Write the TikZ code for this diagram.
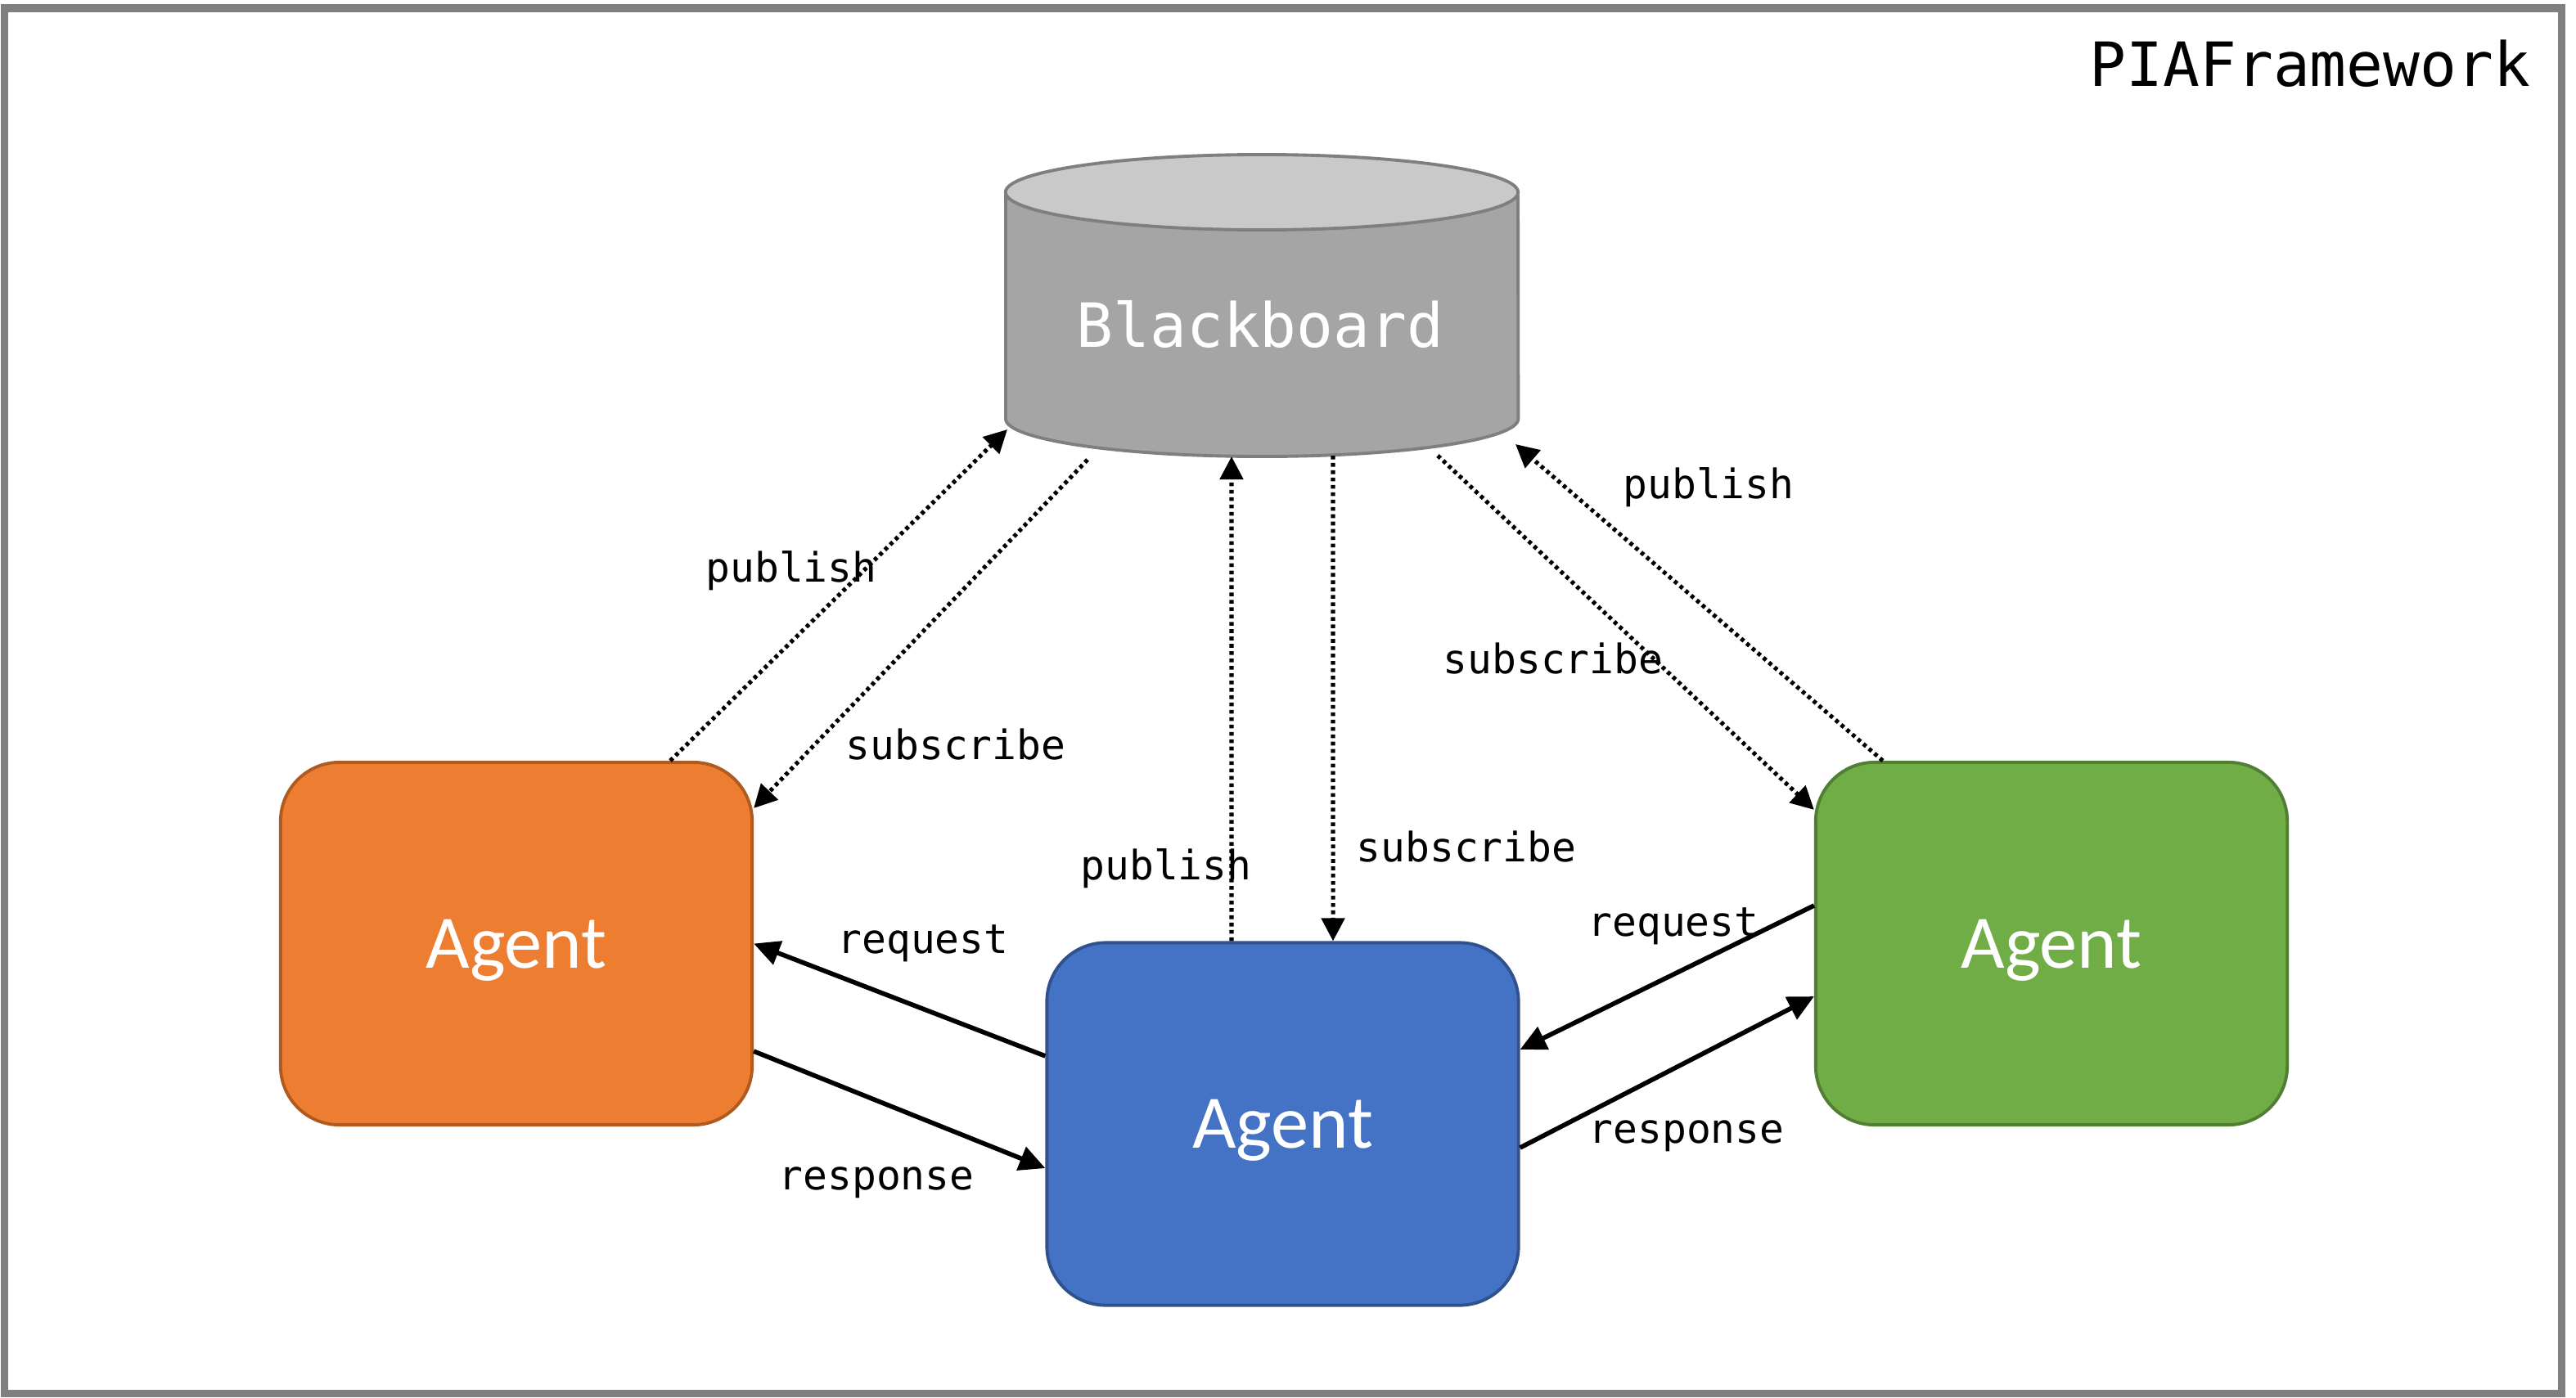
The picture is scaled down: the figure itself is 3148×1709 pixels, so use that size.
\documentclass[tikz,border=0pt]{standalone}
\usepackage{fontspec}
\setmonofont{DejaVu Sans Mono}
\newfontfamily\agentfont{Carlito}
\usetikzlibrary{arrows.meta,calc}
\definecolor{framegray}{HTML}{7F7F7F}
\definecolor{orfill}{HTML}{ED7D31}
\definecolor{ordraw}{HTML}{AE5A21}
\definecolor{blfill}{HTML}{4472C4}
\definecolor{bldraw}{HTML}{2F528F}
\definecolor{grfill}{HTML}{70AD47}
\definecolor{grdraw}{HTML}{507E32}
\definecolor{bbbody}{HTML}{A5A5A5}
\definecolor{bbtop}{HTML}{C9C9C9}
\definecolor{bbline}{HTML}{7F7F7F}
\begin{document}
\begin{tikzpicture}[x=0.01cm,y=-0.01cm,
  agentbox/.style={rectangle, rounded corners=0.72cm, minimum width=5.76cm, minimum height=4.43cm,
    line width=1.1pt, text=white, inner sep=0pt, text depth=0pt,
    font=\agentfont\fontsize{26.3pt}{30pt}\selectfont},
  lbl/.style={anchor=mid, inner sep=0pt, font=\ttfamily\fontsize{14.1pt}{17pt}\selectfont},
  dotarrow/.style={line width=1.45pt, dash pattern=on 1.3pt off 1.25pt,
    -{Triangle[length=8pt,width=8pt]}},
  solidarrow/.style={line width=1.6pt, -{Triangle[length=9pt,width=8.5pt]}}]
\useasboundingbox (0,0) rectangle (3148,1709);
\fill[white] (0,0) rectangle (3148,1709);
\draw[framegray, line width=2.56pt] (5.5,10) rectangle (3130,1703);
\node[anchor=base east, inner sep=0pt, font=\ttfamily\fontsize{21.2pt}{25pt}\selectfont] (title) at (3093,105) {PIAFramework};

% Blackboard cylinder
\filldraw[fill=bbbody, draw=bbline, line width=1.1pt]
  (1229,235) -- (1229,512) arc[start angle=180, end angle=360, x radius=3.13cm, y radius=0.46cm]
  -- (1855,235) -- cycle;
\filldraw[fill=bbtop, draw=bbline, line width=1.1pt] (1542,235) ellipse [x radius=3.13cm, y radius=0.46cm];
\node[anchor=base, inner sep=0pt, text=white, font=\ttfamily\fontsize{21.2pt}{25pt}\selectfont] (BB) at (1540,424) {Blackboard};
\coordinate (bbA) at (1231,525);
\coordinate (bbB) at (1329,562);
\coordinate (bbC) at (1505,558);
\coordinate (bbD) at (1629,557);
\coordinate (bbE) at (1757,557);
\coordinate (bbF) at (1852,543);

% Agents
\node[agentbox, fill=orfill, draw=ordraw] (O) at (631,1153.5) {Agent};
\node[agentbox, fill=blfill, draw=bldraw] (B) at (1567.5,1374) {Agent};
\node[agentbox, fill=grfill, draw=grdraw] (G) at (2507,1153.5) {Agent};

% publish / subscribe
\draw[dotarrow] ([xshift=1.88cm]O.north) -- (bbA);
\draw[dotarrow] (bbB) -- ([yshift=1.655cm]O.east);
\draw[dotarrow] ([xshift=-0.625cm]B.north) -- (bbC);
\draw[dotarrow] (bbD) -- ([xshift=0.615cm]B.north);
\draw[dotarrow] (bbE) -- ([yshift=1.635cm]G.west);
\draw[dotarrow] ([xshift=-2.06cm]G.north) -- (bbF);

% request / response
\draw[solidarrow] ([yshift=0.83cm]B.west) -- (O.east);
\draw[solidarrow] ([yshift=-1.315cm]O.east) -- ([yshift=-0.54cm]B.west);
\draw[solidarrow] ([yshift=0.465cm]G.west) -- ([yshift=0.91cm]B.east);
\draw[solidarrow] ([yshift=-0.29cm]B.east) -- ([yshift=-0.645cm]G.west);

% labels
\node[lbl] (l1) at (967,704) {publish};
\node[lbl] (l2) at (1168,921) {subscribe};
\node[lbl] (l3) at (1425,1068) {publish};
\node[lbl] (l4) at (1792,1046) {subscribe};
\node[lbl] (l5) at (1898,816) {subscribe};
\node[lbl] (l6) at (2088,602) {publish};
\node[lbl] (l7) at (1128,1158) {request};
\node[lbl] (l8) at (1071,1447) {response};
\node[lbl] (l9) at (2045,1137) {request};
\node[lbl] (l10) at (2061,1390) {response};
\end{tikzpicture}
\end{document}
